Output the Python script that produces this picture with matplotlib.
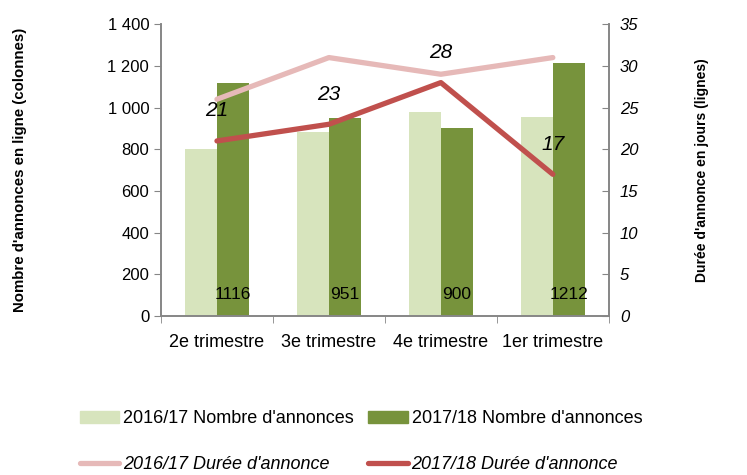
import matplotlib
matplotlib.use("Agg")
import matplotlib.pyplot as plt
import numpy as np
from matplotlib.patches import Patch
from matplotlib.lines import Line2D

plt.rcParams["font.family"] = ["Liberation Sans", "DejaVu Sans"]

# data
trimestres = ["2e trimestre", "3e trimestre", "4e trimestre", "1er trimestre"]
annonces_1617 = [800, 884, 980, 955]
annonces_1718 = [1116, 951, 900, 1212]
duree_1617 = [26, 31, 29, 31]
duree_1718 = [21, 23, 28, 17]

c_bar16 = "#D7E4BD"
c_bar17 = "#77933C"
c_line16 = "#E6B9B8"
c_line17 = "#C0504D"
grey = "#868686"

fig = plt.figure(figsize=(7.47, 4.75), dpi=100)
ax = fig.add_axes([0.2155, 0.3347, 0.5995, 0.6143])
ax2 = ax.twinx()

x = np.arange(len(trimestres))
w = 0.285
ax.bar(x - w / 2, annonces_1617, w, color=c_bar16, zorder=2)
ax.bar(x + w / 2, annonces_1718, w, color=c_bar17, zorder=2)
for xi, v in zip(x, annonces_1718):
    ax.text(xi + w / 2, 105, str(v), ha="center", va="center", fontsize=12.5, zorder=3)

ax.set_xlim(-0.5, len(trimestres) - 0.5)
ax.set_ylim(0, 1400)
ax.set_yticks(range(0, 1401, 200))
ax.set_yticklabels([f"{v:,}".replace(",", " ") for v in range(0, 1401, 200)], fontsize=12)
ax.set_xticks(x)
ax.set_xticklabels(trimestres, fontsize=13)
ax.set_xticks(np.arange(-0.5, len(trimestres)), minor=True)
ax.tick_params(axis="x", which="major", length=0, pad=13)
ax.tick_params(axis="x", which="minor", length=5, color=grey, direction="out")
ax.tick_params(axis="y", length=5, color=grey, direction="out")
ax.set_ylabel("Nombre d'annonces en ligne (colonnes)", fontsize=10.8, fontweight="bold")
ax.yaxis.set_label_coords(-0.30, 0.5)

ax2.plot(x, duree_1617, color=c_line16, lw=3.8, solid_capstyle="round", zorder=4)
ax2.plot(x, duree_1718, color=c_line17, lw=3.8, solid_capstyle="round", zorder=4)
for xi, v in zip(x, duree_1718):
    ax2.text(xi, v + 3.6, str(v), ha="center", va="center", fontsize=15, style="italic")
ax2.set_ylim(0, 35)
ax2.set_yticks(range(0, 36, 5))
ax2.set_yticklabels([str(v) for v in range(0, 36, 5)], fontsize=12, style="italic")
ax2.tick_params(axis="y", length=5, color=grey, direction="in", pad=8)
ax2.set_ylabel("Durée d'annonce en jours (lignes)", fontsize=10, fontweight="bold")
ax2.yaxis.set_label_coords(1.192, 0.5)

for a in (ax, ax2):
    for s in a.spines.values():
        s.set_color(grey)
        s.set_linewidth(1.2)
    a.spines["top"].set_visible(False)

handles = [
    Patch(color=c_bar16),
    Line2D([0], [0], color=c_line16, lw=3.8, solid_capstyle="round"),
    Patch(color=c_bar17),
    Line2D([0], [0], color=c_line17, lw=3.8, solid_capstyle="round"),
]
labels = ["2016/17 Nombre d'annonces", "2016/17 Durée d'annonce",
          "2017/18 Nombre d'annonces", "2017/18 Durée d'annonce"]
leg = fig.legend(handles, labels, ncol=2, loc="lower left", bbox_to_anchor=(0.085, -0.0295),
                 frameon=False, fontsize=13,
                 handlelength=2.2, handleheight=0.6,
                 handletextpad=0.2, labelspacing=1.57, columnspacing=0.8)
for t in leg.get_texts():
    if "Durée" in t.get_text():
        t.set_style("italic")

fig.savefig("out.png", dpi=100)
